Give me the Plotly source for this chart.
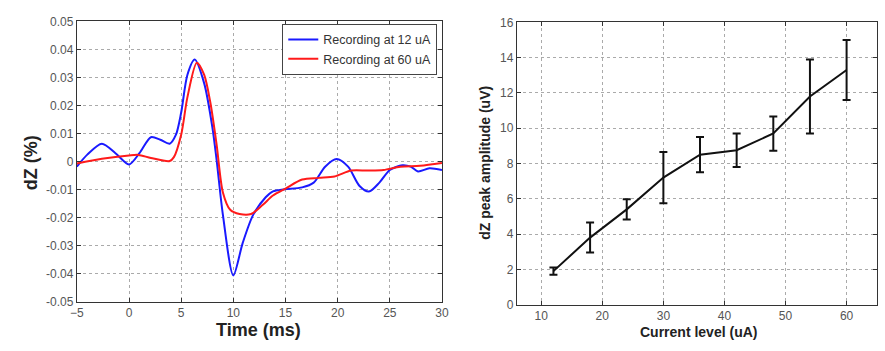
import plotly.graph_objects as go

# ---- Left panel data ----
t_blue = [-5, -4, -2.6, -1.3, 0, 1.0, 2.1, 3.0, 3.9, 4.5, 5.0, 5.6, 6.3, 7.2, 8.0, 8.4, 9.0, 10.0, 10.9, 11.9, 13.1, 13.8,
          14.9, 16.6, 17.7, 18.8, 19.9, 21.0, 22.1, 23.0, 24.0, 25.0, 26.2, 27.0, 27.7, 28.8, 30]
dz_blue = [-0.0018, 0.0025, 0.0064, 0.003, -0.001, 0.003, 0.0087, 0.0078, 0.0064, 0.0096, 0.0175, 0.031, 0.0364, 0.028,
           0.012, 0.0005, -0.019, -0.0406, -0.029, -0.019, -0.0127, -0.0106,
           -0.0099, -0.0092, -0.0075, -0.0018, 0.0009, -0.0018, -0.0087, -0.0107, -0.0075, -0.003, -0.0013, -0.0018,
           -0.0035, -0.0024, -0.003]

t_red = [-5, -2.6, 0, 0.9, 2.1, 3.9, 4.3, 5.0, 5.6, 6.5, 7.2, 7.8, 8.4, 9.0, 9.7, 10.6, 11.7, 12.8, 13.8, 15.0, 16.6,
         18.2, 19.7, 21.3, 22.9, 24.4, 26.0, 27.9, 30]
dz_red = [-0.0007, 0.001, 0.0022, 0.0024, 0.0013, 0.0002, 0.0016, 0.0096, 0.023, 0.0353, 0.031, 0.021, 0.006, -0.011,
          -0.0172, -0.0187, -0.0187, -0.0155, -0.0121, -0.0096, -0.0064,
          -0.0058, -0.0053, -0.0032, -0.0032, -0.003, -0.0018, -0.0015, -0.0005]

left_xticks = [-5, 0, 5, 10, 15, 20, 25, 30]
left_yticks = [-0.05, -0.04, -0.03, -0.02, -0.01, 0, 0.01, 0.02, 0.03, 0.04, 0.05]
left_yticklabels = ["-0.05", "-0.04", "-0.03", "-0.02", "-0.01", "0", "0.01", "0.02", "0.03", "0.04", "0.05"]

# ---- Right panel data ----
current = [12, 18, 24, 30, 36, 42, 48, 54, 60]
amplitude = [1.9, 3.8, 5.4, 7.2, 8.5, 8.75, 9.7, 11.8, 13.3]
amp_err = [0.2, 0.85, 0.58, 1.45, 1.0, 0.95, 0.97, 2.1, 1.7]
right_xticks = [10, 20, 30, 40, 50, 60]
right_yticks = [0, 2, 4, 6, 8, 10, 12, 14, 16]

FONT = "Liberation Sans, Arial, sans-serif"
TICKFONT = dict(family=FONT, size=12, color="#555")
GRID = dict(showgrid=True, gridcolor="#aaa", griddash="dot", gridwidth=1)
AX = dict(showline=True, linecolor="#333", linewidth=1, mirror="ticks", ticks="inside", ticklen=4,
          tickcolor="#333", zeroline=False, tickfont=TICKFONT, **GRID)

fig = go.Figure()
fig.add_trace(go.Scatter(x=t_blue, y=dz_blue, mode="lines", name="Recording at 12 uA",
                         line=dict(color="#1a1aff", width=2, shape="spline", smoothing=0.8),
                         xaxis="x", yaxis="y"))
fig.add_trace(go.Scatter(x=t_red, y=dz_red, mode="lines", name="Recording at 60 uA",
                         line=dict(color="#ff1a1a", width=2, shape="spline", smoothing=0.8),
                         xaxis="x", yaxis="y"))
fig.add_trace(go.Scatter(x=current, y=amplitude, mode="lines", showlegend=False,
                         line=dict(color="#111", width=2),
                         error_y=dict(type="data", array=amp_err, color="#111", thickness=2, width=4),
                         xaxis="x2", yaxis="y2"))

fig.update_layout(
    width=885, height=351, margin=dict(l=0, r=0, t=0, b=0),
    paper_bgcolor="white", plot_bgcolor="white",
    font=dict(family=FONT),
    xaxis=dict(domain=[0.0802, 0.4994], range=[-5, 30], tickvals=left_xticks, anchor="y", **AX),
    yaxis=dict(domain=[0.1254, 0.957], range=[-0.05, 0.05], tickvals=left_yticks, ticktext=left_yticklabels,
               anchor="x", **AX),
    xaxis2=dict(domain=[0.5853, 0.999], range=[6, 65], tickvals=right_xticks, anchor="y2", **AX),
    yaxis2=dict(domain=[0.1168, 0.9544], range=[0, 16], tickvals=right_yticks, anchor="x2", **AX),
    legend=dict(x=0.494, y=0.95, xanchor="right", yanchor="top", bgcolor="white",
                bordercolor="#444", borderwidth=1, font=dict(family=FONT, size=12.5, color="#333"),
                tracegroupgap=0, itemwidth=30),
    showlegend=True,
    annotations=[
        dict(text="<b>dZ (%)</b>", xref="paper", yref="paper", x=24 / 885, y=1 - 162 / 351, textangle=-90,
             showarrow=False, font=dict(family=FONT, size=18, color="#222"), xanchor="center", yanchor="middle"),
        dict(text="<b>Time (ms)</b>", xref="paper", yref="paper", x=256 / 885, y=1 - 336 / 351,
             showarrow=False, font=dict(family=FONT, size=18, color="#222"), xanchor="center", yanchor="middle"),
        dict(text="<b>dZ peak amplitude (uV)</b>", xref="paper", yref="paper", x=485 / 885, y=1 - 162 / 351,
             textangle=-90, showarrow=False, font=dict(family=FONT, size=14, color="#222"),
             xanchor="center", yanchor="middle"),
        dict(text="<b>Current level (uA)</b>", xref="paper", yref="paper", x=703 / 885, y=1 - 338 / 351,
             showarrow=False, font=dict(family=FONT, size=14, color="#222"), xanchor="center", yanchor="middle"),
    ],
)

fig.write_html("out.html")
